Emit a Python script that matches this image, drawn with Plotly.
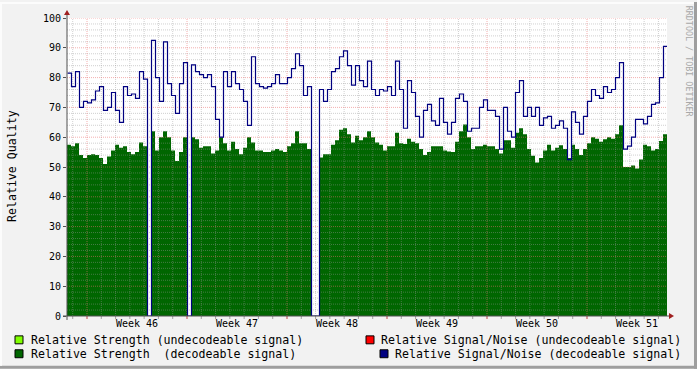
import plotly.graph_objects as go
import pandas as pd

# ---------------- data ----------------
week_labels = ["Week 46", "Week 47", "Week 48", "Week 49", "Week 50", "Week 51"]
week_starts = ["2008-11-10", "2008-11-17", "2008-11-24", "2008-12-01", "2008-12-08", "2008-12-15"]
t_start = pd.Timestamp("2008-11-08 14:24")
t_end = t_start + pd.Timedelta(days=42)
sample_step = pd.Timedelta(hours=6.72)

# Relative Signal/Noise (decodeable signal)
snr = [
    81.5, 77, 82, 70, 72, 71.5, 72.5, 75.5, 77, 69,
    70, 75, 69, 65, 77, 74, 74.5, 73, 82, 79.5,
    0, 92.5, 80, 72, 92, 78, 74, 68, 78, 85,
    0, 84.3, 82, 81, 80, 81, 77, 66, 60, 82,
    77, 82, 78, 76, 72, 64, 87, 78, 77, 76.5,
    77, 78, 81, 78, 78, 80, 83, 88, 84, 74,
    77, 0, 0, 76, 72, 76, 82, 83, 87, 89,
    84, 77.5, 84, 79, 77, 85.5, 76, 74, 76, 75.5,
    77, 74, 85.5, 76, 63, 79, 75, 67, 60, 69,
    71, 65.5, 64, 73, 65, 61, 65, 73, 74.5, 72,
    62, 63, 63, 70, 72.5, 69, 69, 67, 56, 70,
    62, 60, 75, 79, 67, 70, 67, 70, 64, 66.5,
    67, 63, 64, 65.5, 63, 52.5, 68.5, 65, 61, 67,
    72, 76, 74, 73, 77, 75, 76, 80, 85, 56,
    57, 60, 66, 66, 64.5, 67, 71, 71.5, 80, 90.5,
]

# Relative Strength (decodeable signal)
strength = [
    57.5, 57, 58, 54, 53, 54, 54.3, 54, 53, 51,
    53.5, 55.5, 57.5, 56.5, 57, 55, 54.3, 55, 58.2, 57,
    0, 62, 55.5, 60, 62, 60, 55.5, 52, 55, 60,
    0, 60, 59.3, 56.5, 57, 57, 54.5, 55.5, 60, 58,
    55.5, 58.5, 56, 54.3, 56.5, 60, 58.2, 55.5, 55.5, 55,
    55, 55.5, 56, 55.5, 55, 57, 58, 62, 58, 58,
    56, 0, 0, 53.2, 54.3, 54.3, 57.5, 59, 62.5, 63,
    61, 58.2, 60.5, 59, 60, 62, 60, 58.2, 57.5, 55.5,
    57, 57, 61.5, 58, 57.7, 59.5, 58.5, 58, 56, 54,
    55, 57, 57, 57, 55.5, 55.2, 55, 58.5, 62, 64.3,
    60, 56, 57, 57, 57.5, 57, 57, 56, 54.5, 59,
    59, 56.5, 61.5, 63, 61, 56, 53.8, 51.5, 53, 55.5,
    57.5, 55.5, 56.5, 57.3, 56, 53, 57.5, 56, 54, 56,
    58, 60, 59.5, 58.5, 59.3, 60, 59.5, 61, 64, 50,
    50, 50.5, 49.5, 52.5, 57.5, 57, 55.5, 56, 58.7, 61,
]

y_ticks = list(range(0, 101, 10))

# ---------------- helpers ----------------
W, H = 697, 369
L, R, T, B = 67, 667, 16, 316


def px(x):
    return (x - L) / (R - L)


def py(y):
    return (B - y) / (B - T)


span = t_end - t_start
half_px = span / (R - L) / 2  # keeps the 1px line on the pixel grid

times = [t_start + i * sample_step for i in range(len(snr))]
tx = times + [t_end]
tx_line = [t + half_px for t in times] + [t_end]
snr_s = snr + [snr[-1]]
str_s = strength + [strength[-1]]

FONT = "DejaVu Sans Mono"
MINOR = "rgba(150,150,150,0.45)"
MAJOR = "rgba(235,110,110,0.55)"
DASH = "1px,1px"

fig = go.Figure()
fig.add_trace(go.Scatter(
    x=tx, y=str_s, mode="lines", line=dict(width=0, shape="hv", color="#006600"),
    fill="tozeroy", fillcolor="#006600", hoverinfo="skip", showlegend=False))

mondays = set(pd.Timestamp(s) for s in week_starts)
days = []
d = t_start.normalize() + pd.Timedelta(days=1)
while d < t_end:
    days.append(d)
    d += pd.Timedelta(days=1)

for is_major, col in ((False, MINOR), (True, MAJOR)):
    gx, gy = [], []
    for v in range(2, 101, 2):
        if (v % 10 == 0) == is_major:
            gx += [t_start, t_end, None]
            gy += [v, v, None]
    for dd in days:
        if (dd in mondays) == is_major:
            gx += [dd, dd, None]
            gy += [0, 100, None]
    fig.add_trace(go.Scatter(x=gx, y=gy, mode="lines",
                             line=dict(color=col, width=1, dash=DASH),
                             hoverinfo="skip", showlegend=False, connectgaps=False))

fig.add_trace(go.Scatter(
    x=tx_line, y=snr_s, mode="lines", line=dict(width=1.2, shape="hv", color="#000080"),
    hoverinfo="skip", showlegend=False))

shapes = []
for dd in days:
    f = (dd - t_start) / span
    shapes.append(dict(type="line", xref="paper", yref="paper", x0=f, x1=f,
                       y0=py(B + 3), y1=py(B),
                       line=dict(color="#C04040" if dd in mondays else "#A0A0A0", width=1),
                       layer="above"))

AX = "#505050"
shapes.append(dict(type="line", xref="paper", yref="paper", x0=px(L - 4), x1=px(R + 4),
                   y0=py(B), y1=py(B), line=dict(color=AX, width=1), layer="above"))
shapes.append(dict(type="line", xref="paper", yref="paper", x0=px(L), x1=px(L),
                   y0=py(B + 4), y1=py(T - 4), line=dict(color=AX, width=1), layer="above"))
shapes.append(dict(type="path", xref="paper", yref="paper",
                   path=f"M {px(L-3)} {py(T-3)} L {px(L+3)} {py(T-3)} L {px(L)} {py(T-8)} Z",
                   fillcolor="#A02020", line=dict(width=0), layer="above"))
shapes.append(dict(type="path", xref="paper", yref="paper",
                   path=f"M {px(R+2)} {py(B-3)} L {px(R+2)} {py(B+3)} L {px(R+7)} {py(B)} Z",
                   fillcolor="#A02020", line=dict(width=0), layer="above"))
shapes.append(dict(type="rect", xref="paper", yref="paper", x0=px(0), x1=px(W),
                   y0=py(H), y1=py(H - 3), fillcolor="#9E9E9E", line=dict(width=0)))
shapes.append(dict(type="rect", xref="paper", yref="paper", x0=px(W - 3), x1=px(W),
                   y0=py(H), y1=py(0), fillcolor="#9E9E9E", line=dict(width=0)))
shapes.append(dict(type="rect", xref="paper", yref="paper", x0=px(0), x1=px(W - 3),
                   y0=py(2), y1=py(0), fillcolor="#FCFCFC", line=dict(width=0)))
shapes.append(dict(type="rect", xref="paper", yref="paper", x0=px(0), x1=px(2),
                   y0=py(H - 3), y1=py(0), fillcolor="#FCFCFC", line=dict(width=0)))

legend_items = [
    ("Relative Strength (undecodeable signal)", "#80FF00", 15, 340, 30),
    ("Relative Signal/Noise (undecodeable signal)", "#FF0000", 366, 340, 380),
    ("Relative Strength\u00a0 (decodeable signal)", "#006600", 15, 354, 30),
    ("Relative Signal/Noise (decodeable signal)", "#000080", 380, 354, 394),
]
annotations = []
for text, col, bx, cy, tx0 in legend_items:
    shapes.append(dict(type="rect", xref="paper", yref="paper", x0=px(bx), x1=px(bx + 8),
                       y0=py(cy + 4), y1=py(cy - 4), fillcolor=col,
                       line=dict(color="#000000", width=1)))
    annotations.append(dict(text=text, xref="paper", yref="paper", x=px(tx0 - 1), y=py(cy + 0.5),
                            xanchor="left", yanchor="middle", showarrow=False,
                            font=dict(family=FONT, size=11.6, color="#000000")))

annotations.append(dict(text="Relative Quality", xref="paper", yref="paper", x=px(12), y=py(165),
                        textangle=-90, showarrow=False, xanchor="center", yanchor="middle",
                        font=dict(family=FONT, size=11.6, color="#000000")))
annotations.append(dict(text="RRDTOOL / TOBI OETIKER", xref="paper", yref="paper", x=px(689),
                        y=py(60), textangle=90, showarrow=False, xanchor="center", yanchor="middle",
                        font=dict(family=FONT, size=8.4, color="#A8A8A8")))

label_pos = [pd.Timestamp(s) + pd.Timedelta(hours=84) for s in week_starts]

fig.update_layout(
    width=W, height=H,
    margin=dict(l=L, r=W - R, t=T, b=H - B, pad=0),
    paper_bgcolor="#F2F2F2", plot_bgcolor="#FFFFFF",
    shapes=shapes, annotations=annotations, showlegend=False,
    xaxis=dict(type="date", range=[t_start, t_end], tickmode="array", tickvals=label_pos,
               ticktext=week_labels, ticks="", showgrid=False, zeroline=False, showline=False,
               tickfont=dict(family=FONT, size=10, color="#000000"), fixedrange=True),
    yaxis=dict(range=[0, 100], tickmode="array", tickvals=y_ticks, ticks="outside", ticklen=3,
               tickcolor=AX, showgrid=False, zeroline=False, showline=False,
               tickfont=dict(family=FONT, size=10, color="#000000"), fixedrange=True),
)

fig.write_html("out.html")
